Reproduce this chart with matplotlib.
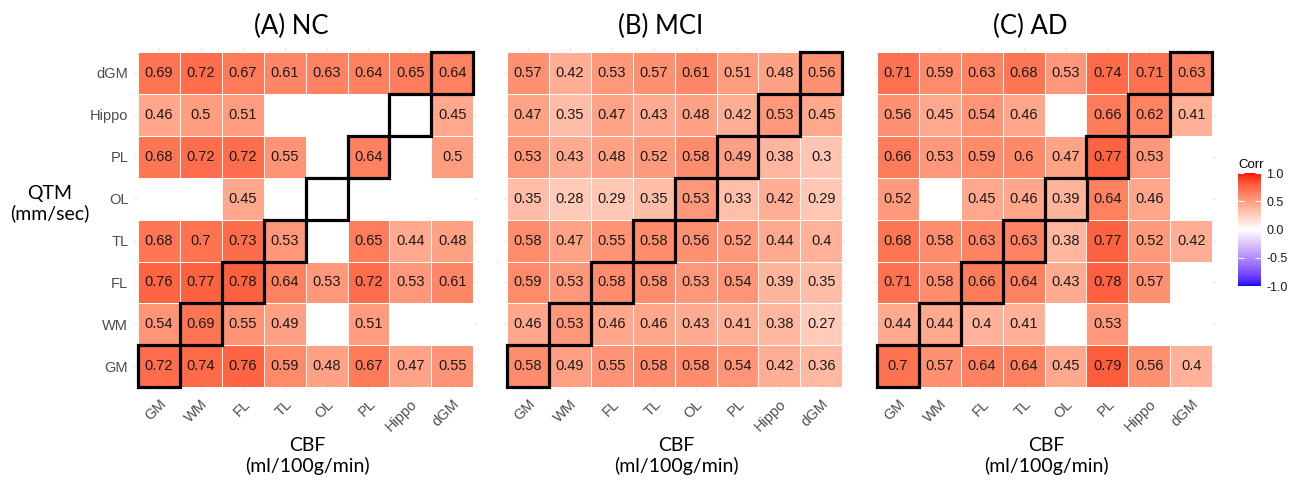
import numpy as np
import matplotlib
matplotlib.use('Agg')
import matplotlib.pyplot as plt
from matplotlib.colors import LinearSegmentedColormap, Normalize
from matplotlib.patches import Rectangle
from matplotlib.cm import ScalarMappable

nan = np.nan

# regions (x: CBF, y: QTM); rows listed from bottom (GM) to top (dGM)
regions = ['GM', 'WM', 'FL', 'TL', 'OL', 'PL', 'Hippo', 'dGM']
titles = ['(A) NC', '(B) MCI', '(C) AD']

nc_corr = [
    [0.72, 0.74, 0.76, 0.59, 0.48, 0.67, 0.47, 0.55],   # GM
    [0.54, 0.69, 0.55, 0.49, nan, 0.51, nan, nan],      # WM
    [0.76, 0.77, 0.78, 0.64, 0.53, 0.72, 0.53, 0.61],   # FL
    [0.68, 0.70, 0.73, 0.53, nan, 0.65, 0.44, 0.48],    # TL
    [nan, nan, 0.45, nan, nan, nan, nan, nan],          # OL
    [0.68, 0.72, 0.72, 0.55, nan, 0.64, nan, 0.50],     # PL
    [0.46, 0.50, 0.51, nan, nan, nan, nan, 0.45],       # Hippo
    [0.69, 0.72, 0.67, 0.61, 0.63, 0.64, 0.65, 0.64],   # dGM
]
mci_corr = [
    [0.58, 0.49, 0.55, 0.58, 0.58, 0.54, 0.42, 0.36],
    [0.46, 0.53, 0.46, 0.46, 0.43, 0.41, 0.38, 0.27],
    [0.59, 0.53, 0.58, 0.58, 0.53, 0.54, 0.39, 0.35],
    [0.58, 0.47, 0.55, 0.58, 0.56, 0.52, 0.44, 0.40],
    [0.35, 0.28, 0.29, 0.35, 0.53, 0.33, 0.42, 0.29],
    [0.53, 0.43, 0.48, 0.52, 0.58, 0.49, 0.38, 0.30],
    [0.47, 0.35, 0.47, 0.43, 0.48, 0.42, 0.53, 0.45],
    [0.57, 0.42, 0.53, 0.57, 0.61, 0.51, 0.48, 0.56],
]
ad_corr = [
    [0.70, 0.57, 0.64, 0.64, 0.45, 0.79, 0.56, 0.40],
    [0.44, 0.44, 0.40, 0.41, nan, 0.53, nan, nan],
    [0.71, 0.58, 0.66, 0.64, 0.43, 0.78, 0.57, nan],
    [0.68, 0.58, 0.63, 0.63, 0.38, 0.77, 0.52, 0.42],
    [0.52, nan, 0.45, 0.46, 0.39, 0.64, 0.46, nan],
    [0.66, 0.53, 0.59, 0.60, 0.47, 0.77, 0.53, nan],
    [0.56, 0.45, 0.54, 0.46, nan, 0.66, 0.62, 0.41],
    [0.71, 0.59, 0.63, 0.68, 0.53, 0.74, 0.71, 0.63],
]
panels = [nc_corr, mci_corr, ad_corr]

# ---- blue-white-red gradient interpolated in Lab (like ggplot's gradient2)
M = np.array([[0.4124, 0.3576, 0.1805],
              [0.2126, 0.7152, 0.0722],
              [0.0193, 0.1192, 0.9505]])
WHITE = np.array([0.95047, 1.0, 1.08883])


def to_lab(rgb):
    rgb = np.asarray(rgb, float)
    lin = np.where(rgb <= 0.04045, rgb / 12.92, ((rgb + 0.055) / 1.055) ** 2.4)
    xyz = M @ lin / WHITE
    f = np.where(xyz > 0.008856, np.cbrt(xyz), 7.787 * xyz + 16 / 116)
    return np.array([116 * f[1] - 16, 500 * (f[0] - f[1]), 200 * (f[1] - f[2])])


def from_lab(lab):
    fy = (lab[0] + 16) / 116
    f = np.array([fy + lab[1] / 500, fy, fy - lab[2] / 200])
    xyz = np.where(f > 0.2069, f ** 3, (f - 16 / 116) / 7.787) * WHITE
    lin = np.clip(np.linalg.solve(M, xyz), 0, 1)
    return np.where(lin <= 0.0031308, 12.92 * lin, 1.055 * lin ** (1 / 2.4) - 0.055)


lab_w, lab_r, lab_b = to_lab([1, 1, 1]), to_lab([1, 0, 0]), to_lab([0, 0, 1])
cols = []
for t in np.linspace(-1, 1, 257):
    end = lab_r if t >= 0 else lab_b
    cols.append(np.clip(from_lab(lab_w + abs(t) * (end - lab_w)), 0, 1))
cmap = LinearSegmentedColormap.from_list('bwr_lab', cols)
cmap.set_bad('white')   # missing pairs drawn as white tiles
norm = Normalize(-1, 1)

# ---- figure
W, H = 1298, 484
fig = plt.figure(figsize=(W / 100, H / 100), dpi=100)

cell = 41.9
tile_left = [138, 507, 877]
tile_top = 52
tick_grey = '#4D4D4D'
label_font = 'Lato'
n = len(regions)

for k, data in enumerate(panels):
    z = np.array(data, dtype=float)
    x0 = tile_left[k] - 0.1 * cell
    y0 = tile_top - 0.1 * cell
    ax = fig.add_axes([x0 / W, 1 - (y0 + 8.2 * cell) / H, 8.2 * cell / W, 8.2 * cell / H])

    ax.set_axisbelow(True)
    ax.grid(True, color='#EBEBEB', lw=1.0)
    edges = np.arange(n + 1) - 0.5
    ax.pcolormesh(edges, edges, np.ma.masked_invalid(z), cmap=cmap, norm=norm,
                  edgecolors='white', linewidth=0.6)

    for i in range(n):
        for j in range(n):
            if not np.isnan(z[i, j]):
                ax.text(j, i, f'{z[i, j]:g}', ha='center', va='center',
                        fontsize=10.5, color='#1A1A1A', family='Liberation Sans')

    # diagonal outlines
    for d in range(n):
        ax.add_patch(Rectangle((d - 0.5, d - 0.5), 1, 1, fill=False,
                               edgecolor='black', lw=2.3, zorder=5))

    ax.set_xlim(-0.6, n - 0.4)
    ax.set_ylim(-0.6, n - 0.4)
    ax.set_xticks(range(n))
    ax.set_yticks(range(n))
    ax.set_xticklabels(regions, rotation=45, ha='right', va='top',
                       rotation_mode='anchor', color=tick_grey,
                       fontsize=10.5, family='Liberation Sans')
    if k == 0:
        ax.set_yticklabels(regions, color=tick_grey, fontsize=10.5,
                           family='Liberation Sans')
    else:
        ax.set_yticklabels([])
    ax.tick_params(length=0, pad=4)
    for s in ax.spines.values():
        s.set_visible(False)

    cx = tile_left[k] + 4 * cell
    fig.text((cx - 14) / W, 1 - 26 / H, titles[k], ha='center', va='center',
             fontsize=18.5, family=label_font)
    fig.text((cx + 2) / W, 1 - 456 / H, 'CBF\n(ml/100g/min)', ha='center',
             va='center', fontsize=14, family=label_font, linespacing=1.15)

fig.text(50 / W, 1 - 204 / H, 'QTM\n(mm/sec)', ha='center', va='center',
         fontsize=14, family=label_font, linespacing=1.15)

# ---- colour legend
cax = fig.add_axes([1238 / W, 1 - 286 / H, 23 / W, 113 / H])
cb = fig.colorbar(ScalarMappable(norm=norm, cmap=cmap), cax=cax)
cb.outline.set_visible(False)
cb.set_ticks([-1, -0.5, 0, 0.5, 1])
cb.set_ticklabels(['-1.0', '-0.5', '0.0', '0.5', '1.0'])
cax.tick_params(direction='in', color='white', length=4, width=0.8,
                left=True, labelsize=9, labelcolor='#1A1A1A', pad=4)
for t in cax.get_yticklabels():
    t.set_family('Liberation Sans')
fig.text(1238 / W, 1 - 165 / H, 'Corr', ha='left', va='center', fontsize=9.5,
         family='Liberation Sans')

fig.savefig('out.png', dpi=100)
